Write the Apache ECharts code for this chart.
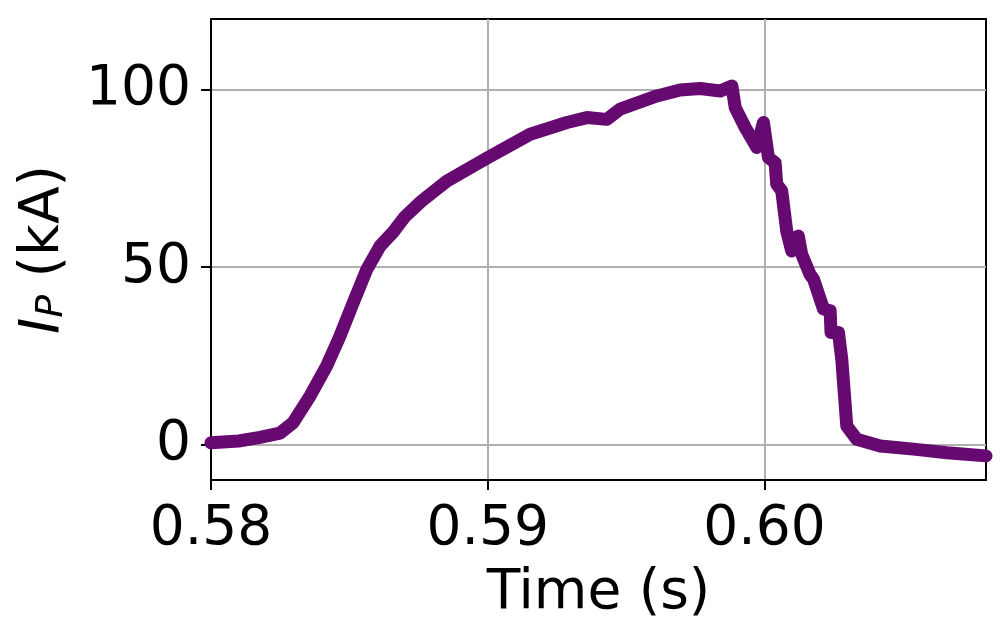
<!DOCTYPE html>
<html>
<head>
<meta charset="utf-8">
<script src="https://cdn.jsdelivr.net/npm/echarts@6/dist/echarts.min.js"></script>
<style>html,body{margin:0;padding:0;background:#fff;}#c{width:1005px;height:640px;}</style>
</head>
<body>
<div id="c"></div>
<script>
const timeS = [0.5800,0.5810,0.58177,0.58249,0.58297,0.58358,0.58418,0.58466,0.58514,0.58563,0.58611,0.58659,0.58700,0.58760,0.58852,0.5900,0.59153,0.59286,0.59358,0.5943,0.59478,0.59611,0.59695,0.59767,0.5984,0.59882,0.59894,0.5993,0.59972,0.59996,0.60014,0.60038,0.60044,0.60062,0.6008,0.60098,0.60122,0.60134,0.60164,0.60177,0.60213,0.60237,0.60240,0.60267,0.60279,0.60297,0.60333,0.60418,0.60538,0.60659,0.6080];
const currentKA = [0.5,1.0,2.0,3.2,6.2,13.7,22.2,30.6,40,49.4,56,60,64.2,68.6,74.3,80.9,87.5,90.8,92.2,91.7,94.6,98.3,100,100.4,99.7,101.1,95,89.4,83.8,90.8,80.9,79.5,73.4,71.5,60.2,54.6,58.8,53.7,48,46.6,38.2,37.7,31.6,31.6,24,5.2,1.5,-0.4,-1.3,-2.3,-3.2];
const xTicks = [0.58,0.59,0.60];
const yTicks = [0,50,100];

const pts = timeS.map((t,i)=>[t,currentKA[i]]);
const font = 'DejaVu Sans';
const FS = 55;
const chart = echarts.init(document.getElementById('c'), null, {renderer:'canvas'});
chart.setOption({
  animation:false,
  backgroundColor:'#fff',
  grid:{left:211,right:19,top:19,bottom:160,show:true,borderColor:'#000',borderWidth:2,backgroundColor:'transparent'},
  xAxis:{
    type:'value',min:0.58,max:0.608,
    axisLine:{show:true,onZero:false,lineStyle:{color:'#000',width:2}},
    axisTick:{show:true,length:10,inside:false,customValues:xTicks,lineStyle:{color:'#000',width:2}},
    axisLabel:{customValues:xTicks,fontFamily:font,fontSize:FS,color:'#000',margin:22,formatter:v=>v.toFixed(2)},
    splitLine:{show:true,lineStyle:{color:'#b0b0b0',width:2}},
    name:'Time (s)',nameLocation:'middle',nameGap:86,
    nameTextStyle:{fontFamily:font,fontSize:FS,color:'#000'}
  },
  yAxis:{
    type:'value',min:-10,max:120,
    axisLine:{show:true,onZero:false,lineStyle:{color:'#000',width:2}},
    axisTick:{show:true,length:10,inside:false,customValues:yTicks,lineStyle:{color:'#000',width:2}},
    axisLabel:{customValues:yTicks,fontFamily:font,fontSize:FS,color:'#000',margin:20},
    splitLine:{show:true,lineStyle:{color:'#b0b0b0',width:2}},
    name:'{i|I}{s|P}{n| (kA)}',nameLocation:'middle',nameGap:140,nameRotate:90,
    nameTextStyle:{fontFamily:font,fontSize:FS,color:'#000',
      rich:{
        i:{fontFamily:font,fontSize:FS,fontStyle:'italic',color:'#000'},
        s:{fontFamily:font,fontSize:38,fontStyle:'italic',color:'#000',verticalAlign:'bottom',padding:[14,0,0,0]},
        n:{fontFamily:font,fontSize:FS,color:'#000'}
      }}
  },
  series:[{
    type:'line',data:pts,showSymbol:false,smooth:false,
    lineStyle:{color:'#660a72',width:13,cap:'round',join:'round'},
    clip:true
  }]
});
</script>
</body>
</html>
